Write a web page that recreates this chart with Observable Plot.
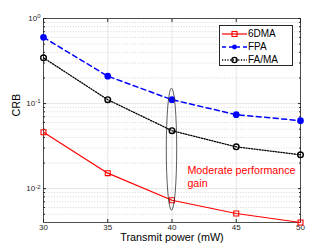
<!DOCTYPE html>
<html>
<head>
<meta charset="utf-8">
<script src="https://cdn.jsdelivr.net/npm/d3@7"></script>
<script src="https://cdn.jsdelivr.net/npm/@observablehq/plot@0.6"></script>
<style>
  html, body { margin: 0; padding: 0; background: white; }
  #wrap { position: relative; width: 332px; height: 249px; font-family: "Liberation Sans", Arial, sans-serif; }
  #legend { position: absolute; left: 219px; top: 25px; width: 74px; height: 41px; border: 1px solid #262626; background: white; box-sizing: border-box; }
  .row { position: absolute; left: 0; height: 13px; display: flex; align-items: center; font-size: 10px; color: #000; }
  .row svg { display: block; margin-left: 2px; margin-right: 1px; }
</style>
</head>
<body>
<div id="wrap"></div>
<script>
const power = [30, 35, 40, 45, 50];
const crb6DMA = [0.046, 0.0152, 0.0073, 0.0051, 0.0040];
const crbFPA = [0.60, 0.21, 0.111, 0.074, 0.063];
const crbFAMA = [0.345, 0.111, 0.048, 0.031, 0.025];
const seriesNames = ["6DMA", "FPA", "FA/MA"];
const xTicks = [30, 35, 40, 45, 50];
const yMajor = [0.01, 0.1, 1];
const yMinor = [0.005, 0.006, 0.007, 0.008, 0.009, 0.02, 0.03, 0.04, 0.05, 0.06, 0.07, 0.08, 0.09, 0.2, 0.3, 0.4, 0.5, 0.6, 0.7, 0.8, 0.9];
const ellipse = {x: 40, yTop: 0.15, yBottom: 0.0055};
const note = {x: 41.2, y: 0.0138, text: "Moderate performance\ngain"};

const rows = (ys) => power.map((p, i) => ({x: p, y: ys[i]}));
const d6 = rows(crb6DMA), dF = rows(crbFPA), dM = rows(crbFAMA);

function ellipseMark(index, scales) {
  const x = scales.x, y = scales.y;
  const cx = x(ellipse.x);
  const y1 = y(ellipse.yTop), y2 = y(ellipse.yBottom);
  const e = d3.create("svg:ellipse")
    .attr("cx", cx).attr("cy", (y1 + y2) / 2)
    .attr("rx", 5.2).attr("ry", Math.abs(y2 - y1) / 2)
    .attr("fill", "none").attr("stroke", "#333").attr("stroke-width", 0.8);
  return e.node();
}

const chart = Plot.plot({
  width: 332, height: 249,
  marginLeft: 43, marginRight: 32, marginTop: 18, marginBottom: 27,
  x: {domain: [30, 50]},
  y: {type: "log", domain: [0.004, 1]},
  style: {fontFamily: "Liberation Sans, Arial, sans-serif", fontSize: "8px", color: "#262626", background: "white"},
  marks: [
    Plot.ruleY(yMinor, {stroke: "#c4c4c4", strokeWidth: 0.6, strokeDasharray: "1.2,1.5"}),
    Plot.ruleY(yMajor, {stroke: "#e0e0e0", strokeWidth: 0.8}),
    Plot.ruleX(xTicks, {stroke: "#e0e0e0", strokeWidth: 0.8}),
    Plot.axisX(xTicks, {anchor: "bottom", tickSize: -3, tickPadding: 4.5, label: null, tickFormat: d => String(d)}),
    Plot.axisX(xTicks, {anchor: "top", tickSize: -3, label: null, tickFormat: () => ""}),
    Plot.axisY(yMajor, {anchor: "left", tickSize: -3, tickPadding: 6, label: null, tickFormat: d => "10^" + Math.round(Math.log10(d))}),
    Plot.axisY(yMajor, {anchor: "right", tickSize: -3, label: null, tickFormat: () => ""}),
    Plot.axisY(yMinor, {anchor: "left", tickSize: -2, label: null, tickFormat: () => ""}),
    Plot.axisY(yMinor, {anchor: "right", tickSize: -2, label: null, tickFormat: () => ""}),
    Plot.frame({stroke: "#262626", strokeWidth: 0.8}),
    Plot.line(dF, {x: "x", y: "y", stroke: "#0000ff", strokeWidth: 1.5, strokeDasharray: "5,3.5"}),
    Plot.dot(dF, {x: "x", y: "y", r: 2.6, fill: "#0000ff", stroke: "#0000ff"}),
    Plot.line(dM, {x: "x", y: "y", stroke: "#000", strokeWidth: 1.3, strokeDasharray: "1.2,1.5"}),
    Plot.dot(dM, {x: "x", y: "y", r: 2.8, fill: "none", stroke: "#000", strokeWidth: 1.4}),
    Plot.line(d6, {x: "x", y: "y", stroke: "#ff0000", strokeWidth: 1.2}),
    Plot.dot(d6, {x: "x", y: "y", r: 2.8, symbol: "square", fill: "none", stroke: "#ff0000", strokeWidth: 1.1}),
    ellipseMark,
    Plot.text([note], {x: "x", y: "y", text: "text", textAnchor: "start", lineAnchor: "middle", lineHeight: 1.2, fill: "#ff0000", fontSize: 10.7}),
    Plot.text(["Transmit power (mW)"], {frameAnchor: "bottom", dy: 15, fill: "#000", fontSize: 10.8, lineAnchor: "middle"}),
    Plot.text(["CRB"], {frameAnchor: "left", dx: -27, dy: -4, rotate: -90, fill: "#000", fontSize: 10.8, lineAnchor: "middle"})
  ]
});

// superscript exponents on y tick labels (keeps real text)
d3.select(chart).selectAll("text").each(function() {
  const s = this.textContent;
  if (s.startsWith("10^")) {
    const exp = s.slice(3);
    const t = d3.select(this);
    t.text("10");
    t.append("tspan").attr("dy", "-0.45em").attr("font-size", "6px").text(exp);
  }
});

document.getElementById("wrap").appendChild(chart);

// legend
const legend = document.createElement("div");
legend.id = "legend";
const specs = [
  {stroke: "#ff0000", dash: null, w: 1.2, marker: "square"},
  {stroke: "#0000ff", dash: "4,3", w: 1.5, marker: "dot"},
  {stroke: "#000", dash: "1.2,1.5", w: 1.3, marker: "circle"}
];
seriesNames.forEach((name, i) => {
  const s = specs[i];
  const row = document.createElement("div");
  row.className = "row";
  row.style.top = (1 + i * 13) + "px";
  let mk = "";
  if (s.marker === "square") mk = `<rect x="10" y="3.5" width="5" height="5" fill="none" stroke="${s.stroke}" stroke-width="1.1"/>`;
  if (s.marker === "dot") mk = `<circle cx="12.5" cy="6" r="2.4" fill="${s.stroke}"/>`;
  if (s.marker === "circle") mk = `<circle cx="12.5" cy="6" r="2.6" fill="none" stroke="${s.stroke}" stroke-width="1.4"/>`;
  row.innerHTML = `<svg width="25" height="12"><line x1="0" y1="6" x2="25" y2="6" stroke="${s.stroke}" stroke-width="${s.w}" ${s.dash ? `stroke-dasharray="${s.dash}"` : ""}/>${mk}</svg><span>${name}</span>`;
  legend.appendChild(row);
});
document.getElementById("wrap").appendChild(legend);
</script>
</body>
</html>
